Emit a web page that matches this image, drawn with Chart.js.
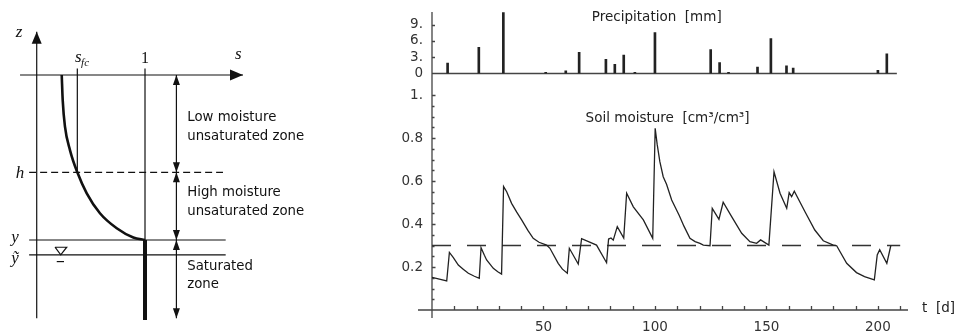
<!DOCTYPE html>
<html>
<head>
<meta charset="utf-8">
<script src="https://cdn.jsdelivr.net/npm/chart.js@4.4.1/dist/chart.umd.min.js"></script>
<style>
  html, body { margin: 0; padding: 0; background: #fff; }
  #wrap { position: relative; width: 956px; height: 336px; overflow: hidden; }
  #profileBox { position: absolute; left: 0; top: 0; width: 380px; height: 336px; }
  #seriesBox { position: absolute; left: 380px; top: 0; width: 576px; height: 336px; }
</style>
</head>
<body>
<div id="wrap">
  <div id="profileBox"><canvas id="profile"></canvas></div>
  <div id="seriesBox"><canvas id="series"></canvas></div>
</div>
<script>
// ---- soil profile (s = relative saturation, z = elevation, surface at 0)
const sFc = 0.375;
const hLevel = -0.59;
const yLevel = -1.0;
const yTildeLevel = -1.09;
const zBottom = -1.475;
const zoneArrowS = 1.29;
const profileS = [0.231, 0.240, 0.261, 0.307, 0.375, 0.462, 0.584, 0.739, 0.892, 1.0];
const profileZ = [0, -0.152, -0.313, -0.455, -0.590, -0.717, -0.838, -0.929, -0.985, -1.0];
const zoneText = ['Low moisture', 'unsaturated zone', 'High moisture', 'unsaturated zone', 'Saturated', 'zone'];
const zoneTextZ = [-0.26, -0.376, -0.715, -0.83, -1.164, -1.273];
const zoneTextS = 1.39;

// ---- time series (t in days)
const rainDays = [7, 21, 32, 51, 60, 66, 78, 82, 86, 91, 100, 125, 129, 133, 146, 152, 159, 162, 200, 204];
const rainMm = [1.9, 4.8, 11.2, 0.2, 0.5, 3.9, 2.6, 1.7, 3.4, 0.2, 7.5, 4.4, 2.0, 0.2, 1.2, 6.4, 1.4, 1.0, 0.6, 3.6];
const soilDays = [0, 6.6, 7.8, 9.5, 11.8, 14, 16.3, 19, 21.2, 22, 23.5, 24.5, 27.5, 29.5, 31.2,
  32.1, 33.5, 35.7, 38, 40.2, 43, 45.4, 48, 51.4, 52.9, 56.6, 58.5, 60.7,
  61.6, 65.6, 67.1, 73.8, 78.3, 79.2, 80.3, 81.3, 83.1, 86, 87.3, 90.3, 94.8, 99,
  100.1, 101, 102.2, 103.7, 105.2, 107.5, 110.9, 113, 115.7, 118, 120.2, 121.7, 124.7,
  125.7, 128.7, 130.6, 134.4, 138.9, 142.6, 145.6, 147.4, 151.1,
  153.4, 156.1, 159.1, 160.2, 161.3, 162.5, 167.3, 171.7, 175.5, 180, 181.5,
  186, 190.4, 194, 198.4, 199.7, 200.8, 204, 205.8];
const soilMoisture = [0.152, 0.135, 0.268, 0.245, 0.209, 0.19, 0.171, 0.157, 0.147, 0.29, 0.255, 0.233, 0.194, 0.178, 0.167,
  0.574, 0.55, 0.496, 0.455, 0.419, 0.37, 0.333, 0.315, 0.302, 0.287, 0.217, 0.19, 0.171,
  0.287, 0.214, 0.332, 0.302, 0.22, 0.33, 0.335, 0.325, 0.388, 0.335, 0.543, 0.48, 0.419, 0.333,
  0.845, 0.77, 0.69, 0.62, 0.585, 0.512, 0.44, 0.39, 0.333, 0.318, 0.31, 0.302, 0.299,
  0.473, 0.422, 0.501, 0.434, 0.357, 0.318, 0.31, 0.326, 0.302,
  0.643, 0.543, 0.473, 0.546, 0.527, 0.553, 0.457, 0.372, 0.322, 0.302, 0.299,
  0.217, 0.174, 0.155, 0.14, 0.256, 0.28, 0.217, 0.3];
const fieldCapacity = 0.3;
const dayTicks = [50, 100, 150, 200];
const rainTicks = [0, 3, 6, 9];
const rainTickLabels = ['0', '3.', '6.', '9.'];
const moistureTicks = [0.2, 0.4, 0.6, 0.8, 1];
const moistureTickLabels = ['0.2', '0.4', '0.6', '0.8', '1.'];

const INK = '#111';
const SANS = '"DejaVu Sans", sans-serif';
const SERIF = '"Liberation Serif", "DejaVu Serif", serif';

function seg(x0, y0, x1, y1) { return [{ x: x0, y: y0 }, { x: x1, y: y1 }]; }

function lineSet(data, extra) {
  return Object.assign({ type: 'line', data, borderColor: INK, backgroundColor: INK, borderWidth: 1.2,
    pointRadius: 0, tension: 0, fill: false }, extra || {});
}

// filled arrow heads at the ends of datasets that ask for them
const arrowHeads = {
  id: 'arrowHeads',
  afterDatasetsDraw(chart) {
    const ctx = chart.ctx;
    chart.data.datasets.forEach((ds, i) => {
      if (!ds.arrows) return;
      const pts = chart.getDatasetMeta(i).data;
      const len = ds.arrowLen || 10, half = ds.arrowHalf || 3.5;
      ds.arrows.forEach(end => {
        const tip = end === 'end' ? pts[pts.length - 1] : pts[0];
        const from = end === 'end' ? pts[pts.length - 2] : pts[1];
        const dx = tip.x - from.x, dy = tip.y - from.y;
        const d = Math.hypot(dx, dy) || 1;
        const ux = dx / d, uy = dy / d;
        ctx.save();
        ctx.fillStyle = INK;
        ctx.beginPath();
        ctx.moveTo(tip.x, tip.y);
        ctx.lineTo(tip.x - ux * len - uy * half, tip.y - uy * len + ux * half);
        ctx.lineTo(tip.x - ux * len + uy * half, tip.y - uy * len - ux * half);
        ctx.closePath();
        ctx.fill();
        ctx.restore();
      });
    });
  }
};

const profileLabels = {
  id: 'profileLabels',
  afterDatasetsDraw(chart) {
    const { ctx, scales: { x, y } } = chart;
    const put = (text, s, z, font, align) => {
      ctx.font = font;
      ctx.textAlign = align || 'center';
      ctx.fillText(text, x.getPixelForValue(s), y.getPixelForValue(z));
    };
    ctx.save();
    ctx.fillStyle = INK;
    ctx.textBaseline = 'middle';
    const it = 'italic 17px ' + SERIF;
    put('z', -0.163, 0.259, it);
    put('s', 1.861, 0.121, it);
    put('h', -0.154, -0.596, it);
    put('y', -0.2, -0.985, it);
    put('ỹ', -0.2, -1.115, it);
    put('s', 0.354, 0.103, it, 'left');
    put('fc', 0.41, 0.075, 'italic 11px ' + SERIF, 'left');
    put('1', 1.0, 0.101, '16px ' + SERIF);
    zoneText.forEach((t, k) => put(t, zoneTextS, zoneTextZ[k], '13.3px ' + SANS, 'left'));
    ctx.restore();
  }
};

new Chart(document.getElementById('profile'), {
  type: 'line',
  data: {
    datasets: [
      lineSet(seg(0, zBottom, 0, 0.262), { arrows: ['end'], arrowLen: 12, arrowHalf: 5 }),
      lineSet(seg(-0.154, 0, 1.905, 0), { arrows: ['end'], arrowLen: 13, arrowHalf: 5.5 }),
      lineSet(seg(sFc, 0.04, sFc, hLevel)),
      lineSet(seg(1, 0.04, 1, yLevel)),
      lineSet(seg(1, yLevel, 1, -1.485), { borderWidth: 4 }),
      lineSet(seg(-0.07, hLevel, 1.72, hLevel), { borderDash: [7, 4] }),
      lineSet(seg(-0.07, yLevel, 1.745, yLevel)),
      lineSet(seg(-0.07, yTildeLevel, 1.745, yTildeLevel)),
      // water table mark
      lineSet([{ x: 0.169, y: -1.044 }, { x: 0.277, y: -1.044 }, { x: 0.222, y: yTildeLevel }, { x: 0.169, y: -1.044 }]),
      lineSet(seg(0.185, -1.131, 0.252, -1.131)),
      // zone extents
      lineSet(seg(zoneArrowS, 0, zoneArrowS, hLevel), { arrows: ['start', 'end'] }),
      lineSet(seg(zoneArrowS, hLevel, zoneArrowS, yLevel), { arrows: ['start', 'end'] }),
      lineSet(seg(zoneArrowS, yLevel, zoneArrowS, zBottom), { arrows: ['start', 'end'] }),
      // moisture profile
      lineSet(profileS.map((s, k) => ({ x: s, y: profileZ[k] })), { borderWidth: 2.6, cubicInterpolationMode: 'monotone' })
    ]
  },
  options: {
    responsive: true, maintainAspectRatio: false, animation: false, devicePixelRatio: 1,
    layout: { padding: 0 },
    plugins: { legend: { display: false }, tooltip: { enabled: false } },
    scales: {
      x: { type: 'linear', display: false, min: -0.339, max: 3.170 },
      y: { type: 'linear', display: false, min: -1.582, max: 0.4545 }
    }
  },
  plugins: [arrowHeads, profileLabels]
});

// axes, ticks and titles of the time series
const seriesFrame = {
  id: 'seriesFrame',
  beforeDatasetsDraw(chart) {
    const { ctx, chartArea: a, scales: { x, yM, yP } } = chart;
    const y0 = yM.getPixelForValue(0);
    const p0 = yP.getPixelForValue(0);
    ctx.save();
    ctx.strokeStyle = '#444';
    ctx.lineWidth = 1.3;
    ctx.beginPath();
    ctx.moveTo(a.left, yP.top);
    ctx.lineTo(a.left, y0 + 8);
    ctx.moveTo(a.left - 14, y0);
    ctx.lineTo(a.right, y0);
    ctx.moveTo(a.left, p0);
    ctx.lineTo(x.getPixelForValue(208.5), p0);
    for (let d = 10; d <= 210; d += 10) {
      const px = Math.round(x.getPixelForValue(d)) + 0.5;
      ctx.moveTo(px, y0);
      ctx.lineTo(px, y0 - 4);
    }
    for (let k = 1; k <= 20; k++) {
      const py = Math.round(yM.getPixelForValue(k * 0.05)) + 0.5;
      ctx.moveTo(a.left, py);
      ctx.lineTo(a.left + (k % 4 === 0 ? 3.5 : 2.5), py);
    }
    rainTicks.slice(1).forEach(v => {
      const py = Math.round(yP.getPixelForValue(v)) + 0.5;
      ctx.moveTo(a.left, py);
      ctx.lineTo(a.left + 3, py);
    });
    ctx.stroke();
    ctx.restore();
  },
  afterDatasetsDraw(chart) {
    const { ctx, chartArea: a, scales: { x, yM, yP } } = chart;
    ctx.save();
    ctx.fillStyle = '#222';
    ctx.font = '13.5px ' + SANS;
    ctx.textAlign = 'left';
    ctx.textBaseline = 'middle';
    ctx.fillText('Precipitation  [mm]', x.getPixelForValue(71.7), yP.getPixelForValue(10.2));
    ctx.fillText('Soil moisture  [cm³/cm³]', x.getPixelForValue(68.9), yM.getPixelForValue(0.892));
    ctx.fillText('t  [d]', a.right + 14, yM.getPixelForValue(0) - 2);
    ctx.restore();
  }
};

const tickFont = { family: SANS, size: 13.5 };

// keep the plot box where the layout padding puts it
function fixVertical(s) { s.width = 52; s.paddingTop = 0; s.paddingBottom = 0; }

new Chart(document.getElementById('series'), {
  data: {
    datasets: [
      {
        type: 'bar', label: 'Precipitation',
        data: rainDays.map((d, k) => ({ x: d, y: rainMm[k] })),
        xAxisID: 'x', yAxisID: 'yP',
        backgroundColor: '#222', barThickness: 2, borderWidth: 0
      },
      {
        type: 'line', label: 'Soil moisture',
        data: soilDays.map((d, k) => ({ x: d, y: soilMoisture[k] })),
        xAxisID: 'x', yAxisID: 'yM',
        borderColor: '#222', borderWidth: 1.3, pointRadius: 0, tension: 0, fill: false
      },
      {
        type: 'line', label: 'Field capacity',
        data: [{ x: 0, y: fieldCapacity }, { x: 210, y: fieldCapacity }],
        xAxisID: 'x', yAxisID: 'yM',
        borderColor: '#333', borderWidth: 1.3, borderDash: [19, 16], pointRadius: 0, fill: false
      }
    ]
  },
  options: {
    responsive: true, maintainAspectRatio: false, animation: false, devicePixelRatio: 1,
    layout: { padding: { top: 12, right: 48, left: 0, bottom: 0 } },
    plugins: { legend: { display: false }, tooltip: { enabled: false } },
    scales: {
      x: {
        type: 'linear', position: 'bottom', min: 0, max: 213.5, offset: false,
        grid: { display: false, drawTicks: false, offset: false }, border: { display: false },
        afterBuildTicks: s => { s.ticks = dayTicks.map(v => ({ value: v })); },
        ticks: { font: tickFont, color: '#333', padding: 9, maxRotation: 0, autoSkip: false },
        afterFit: s => { s.height = 26; s.paddingLeft = 0; s.paddingRight = 0; }
      },
      yM: {
        type: 'linear', position: 'left', stack: 'left', stackWeight: 236.5, min: 0, max: 1.1,
        grid: { display: false, drawTicks: false }, border: { display: false },
        afterBuildTicks: s => { s.ticks = moistureTicks.map(v => ({ value: v })); },
        ticks: { font: tickFont, color: '#333', padding: 9, autoSkip: false, callback: (v, i) => moistureTickLabels[i] },
        afterFit: fixVertical
      },
      yP: {
        type: 'linear', position: 'left', stack: 'left', stackWeight: 61.5, min: 0, max: 11.3,
        grid: { display: false, drawTicks: false }, border: { display: false },
        afterBuildTicks: s => { s.ticks = rainTicks.map(v => ({ value: v })); },
        ticks: { font: tickFont, color: '#333', padding: 9, autoSkip: false, callback: (v, i) => rainTickLabels[i] },
        afterFit: fixVertical
      }
    }
  },
  plugins: [seriesFrame]
});
</script>
</body>
</html>
